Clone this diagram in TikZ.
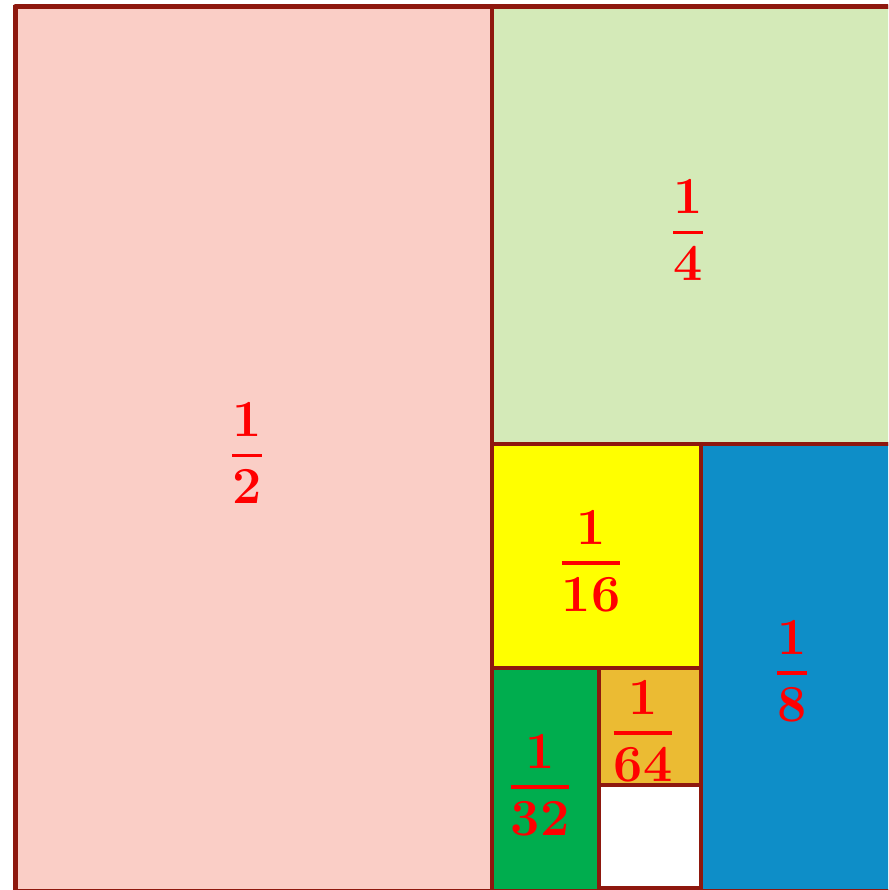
\documentclass[tikz,border=0pt]{standalone}
\definecolor{edge}{RGB}{142,24,14}
\definecolor{pinkc}{RGB}{250,206,198}
\definecolor{lgreen}{RGB}{212,234,184}
\definecolor{yel}{RGB}{255,255,0}
\definecolor{bluec}{RGB}{14,142,200}
\definecolor{dgreen}{RGB}{0,173,78}
\definecolor{orangec}{RGB}{235,187,51}
\newcommand\fr[2]{\vbox{\offinterlineskip\halign{\hfil##\hfil\cr #1\cr\noalign{\kern17pt}\noalign{\hrule height 3.8pt}\noalign{\kern12pt}#2\cr}}}
\tikzset{
  cell/.style={draw=edge, line width=3.2pt},
  frac/.style={inner sep=0pt, text=red, font=\fontsize{52}{60}\selectfont\bfseries},
}
\begin{document}
\begin{tikzpicture}[x=1pt,y=-1pt]
\useasboundingbox (0,0) rectangle (888,890);
\clip (0,0) rectangle (888,890);
\fill[white] (0,0) rectangle (888,890);
\path[cell, fill=pinkc]   (15,7)    rectangle (492,891);
\path[cell, fill=lgreen]  (492,7)   rectangle (891,444);
\path[cell, fill=yel]     (492,444) rectangle (701,668);
\path[cell, fill=bluec]   (701,444) rectangle (891,891);
\path[cell, fill=dgreen]  (492,668) rectangle (599,891);
\path[cell, fill=orangec] (599,668) rectangle (701,785);
\path[cell, fill=white]   (599,785) rectangle (701,888);
\draw[draw=edge, line width=5pt, line join=round] (15,7) rectangle (891,891);
\node[frac] (h)  at (247,453) {\fr{1}{2}};
\node[frac] (q)  at (688,230) {\fr{1}{4}};
\node[frac] (e)  at (792,671) {\fr{1}{8}};
\node[frac] (s)  at (591,561) {\fr{1}{16}};
\node[frac] (t)  at (540,785) {\fr{1}{32}};
\node[frac] (sf) at (643,731) {\fr{1}{64}};
\end{tikzpicture}
\end{document}
